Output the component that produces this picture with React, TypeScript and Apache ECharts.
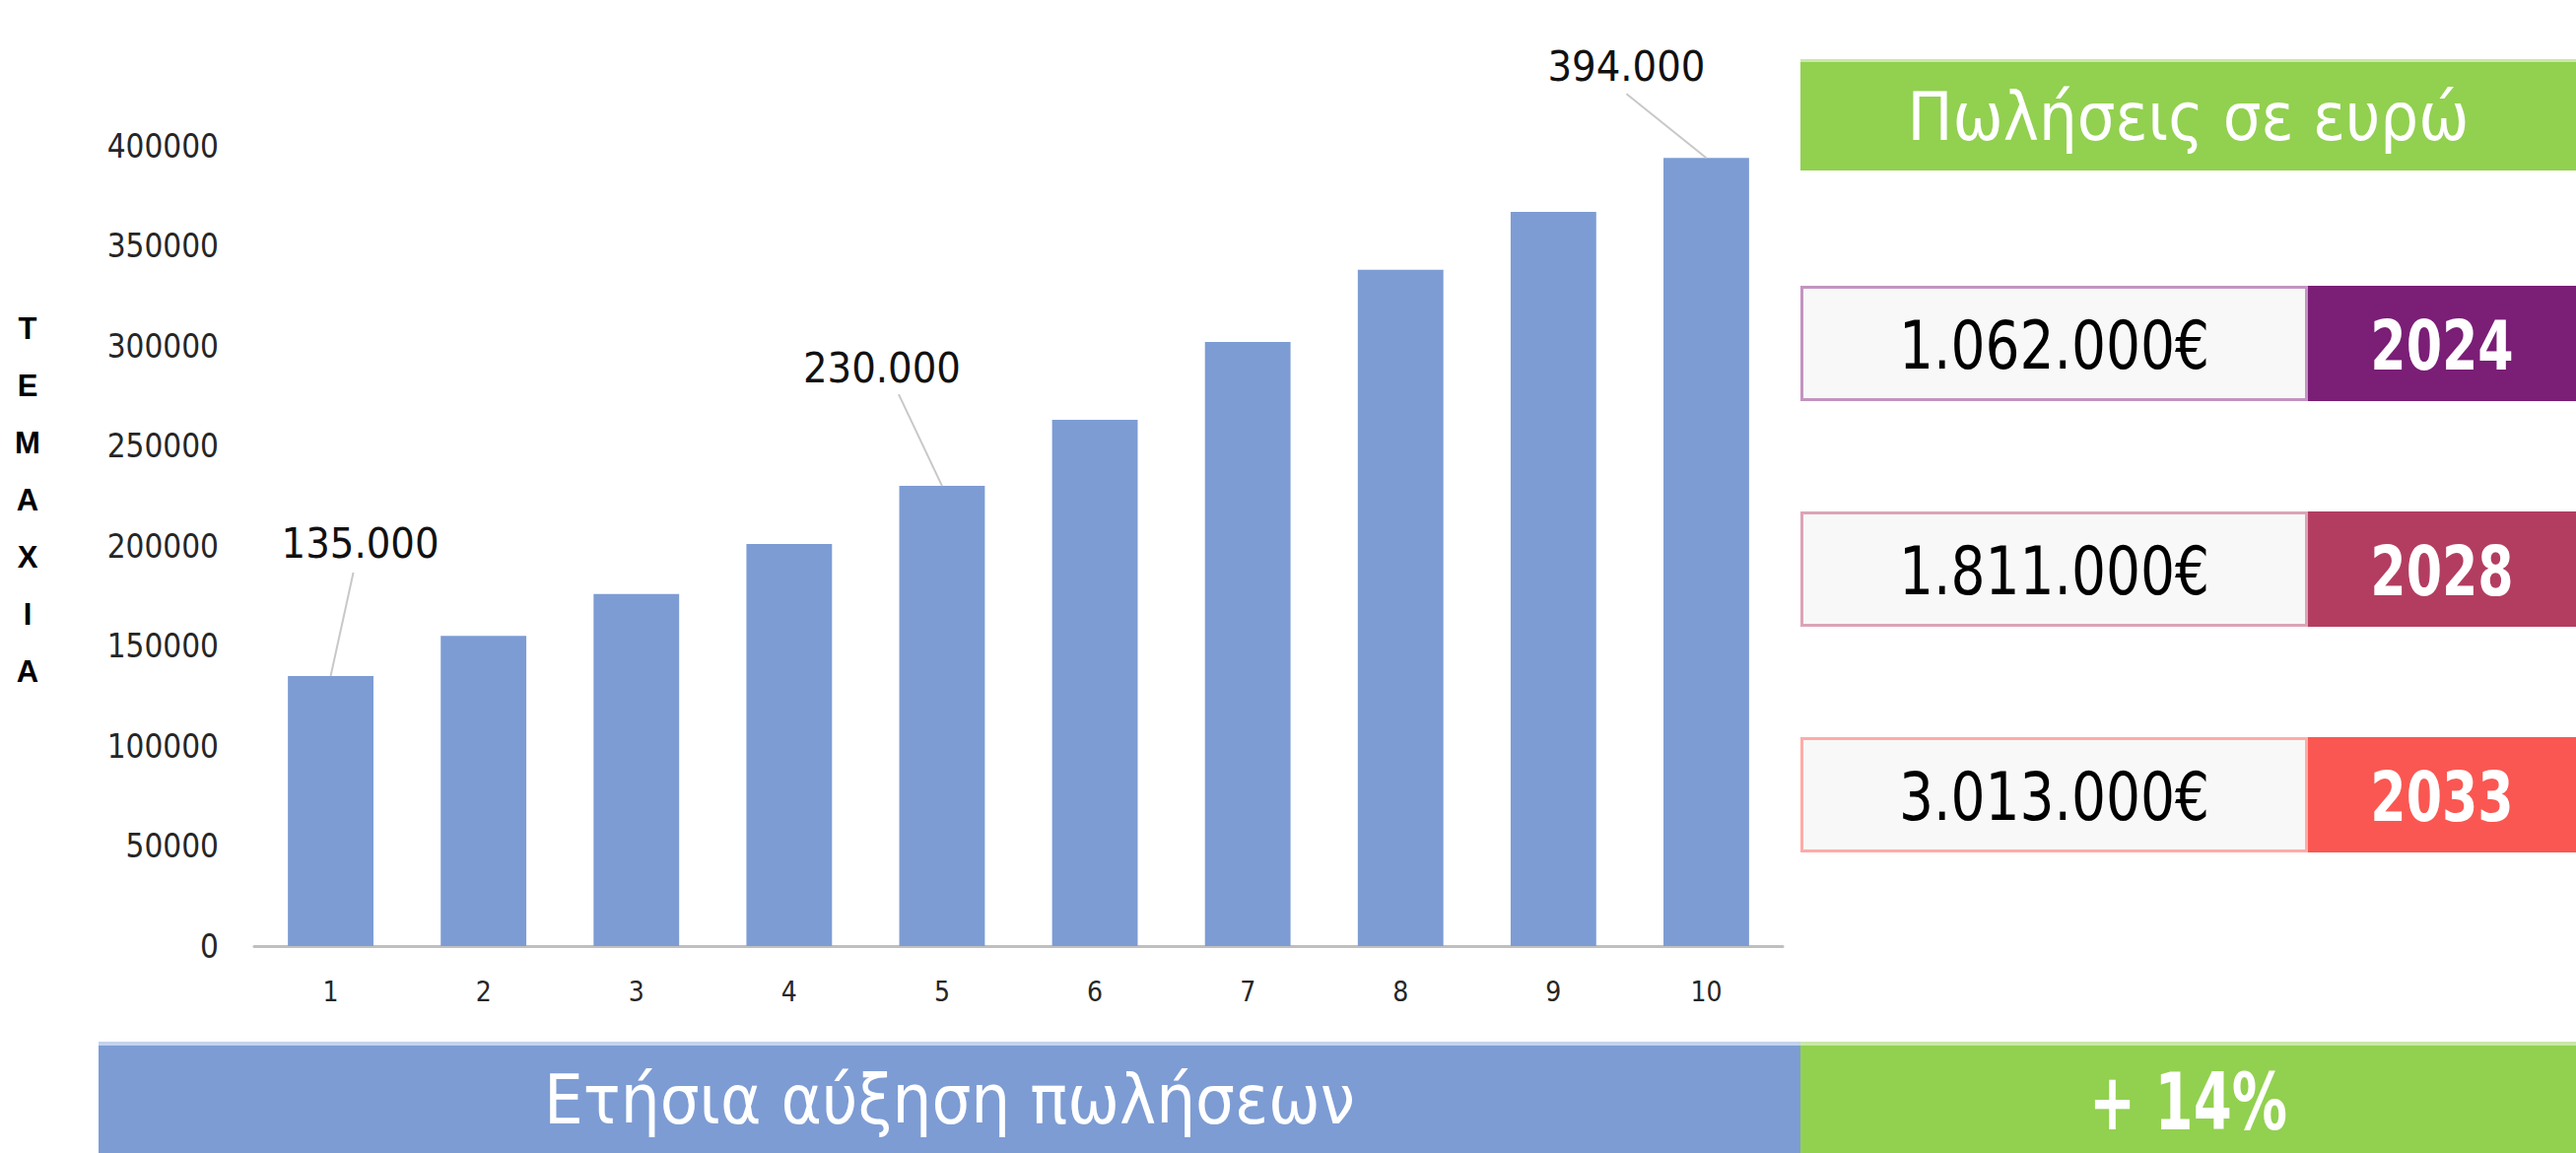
import React, { useEffect, useRef } from 'react';
import * as echarts from 'echarts';

// ---------- data ----------
const categories = ['1', '2', '3', '4', '5', '6', '7', '8', '9', '10'];
const units = [135000, 155000, 176000, 201000, 230000, 263000, 302000, 338000, 367000, 394000];
const labeledIndices = [0, 4, 9];
const yMax = 400000;
const yStep = 50000;
const axisTitle = 'ΤΕΜΑΧΙΑ';
const panelTitle = 'Πωλήσεις σε ευρώ';
const salesAmounts = ['1.062.000€', '1.811.000€', '3.013.000€'];
const salesYears = ['2024', '2028', '2033'];
const growthLabel = 'Ετήσια αύξηση πωλήσεων';
const growthValue = '+ 14%';

// ---------- style ----------
const NARROW = '"DejaVu Sans Condensed", "Liberation Sans Narrow", "DejaVu Sans", sans-serif';
const BAR = '#7D9CD4';
const GREEN = '#92D050';
const yearColors = ['#7A1E76', '#B33D61', '#FA5752'];
const yearBorders = ['#C393C1', '#DCA3B6', '#FFABA7'];
// label placement relative to bar top (pixels): text centre and leader start
const labelOffsets = [
  { tx: 30, ty: -135, lx: 23, ly: -105 },
  { tx: -61, ty: -120, lx: -44, ly: -93 },
  { tx: -81, ty: -93, lx: -81, ly: -65 },
];

const fmt = (v: number) => String(v).replace(/\B(?=(\d{3})+(?!\d))/g, '.');

const centered = (extra: any) => ({
  align: 'center',
  textAlign: 'center',
  verticalAlign: 'middle',
  textVerticalAlign: 'middle',
  fontFamily: NARROW,
  ...extra,
});

export default function App() {
  const ref = useRef<HTMLDivElement>(null);
  useEffect(() => {
    const chart = echarts.init(ref.current!, null, { renderer: 'svg' });

    const panelX = 1827;
    const panelW = 2614 - panelX;
    const splitX = 2342;
    const rowYs = [290, 519, 748];
    const rowH = 117;

    const graphics: any[] = [];
    // axis title stacked letters
    graphics.push({
      type: 'text',
      x: 28,
      y: 304,
      style: {
        text: axisTitle.split('').join('\n'),
        fill: '#000',
        fontSize: 31,
        fontWeight: 'bold',
        fontFamily: '"Liberation Sans", sans-serif',
        lineHeight: 58,
        align: 'center',
        textAlign: 'center',
        verticalAlign: 'top',
        textVerticalAlign: 'top',
      },
    });
    // header
    graphics.push({ type: 'rect', shape: { x: panelX, y: 60, width: panelW, height: 113 }, style: { fill: GREEN } });
    graphics.push({ type: 'rect', shape: { x: panelX, y: 60, width: panelW, height: 3 }, style: { fill: '#C9E8A8' } });
    graphics.push({
      type: 'text', x: panelX + panelW / 2, y: 118,
      style: centered({ text: panelTitle, fill: '#fff', fontSize: 68 }),
    });
    salesAmounts.forEach((amt, i) => {
      const y = rowYs[i];
      graphics.push({ type: 'rect', shape: { x: panelX + 1.5, y: y + 1.5, width: splitX - panelX - 3, height: rowH - 3 }, style: { fill: '#F8F8F8', stroke: yearBorders[i], lineWidth: 3 } });
      graphics.push({ type: 'rect', shape: { x: splitX, y, width: 2614 - splitX, height: rowH }, style: { fill: yearColors[i] } });
      graphics.push({
        type: 'text', x: (panelX + splitX) / 2, y: y + rowH / 2 + 2, scaleX: 0.9,
        style: centered({ text: amt, fill: '#000', fontSize: 68 }),
      });
      graphics.push({
        type: 'text', x: (splitX + 2614) / 2, y: y + rowH / 2 + 2, scaleX: 0.83,
        style: centered({ text: salesYears[i], fill: '#fff', fontSize: 70, fontWeight: 'bold' }),
      });
    });
    // bottom bars
    graphics.push({ type: 'rect', shape: { x: 100, y: 1057, width: panelX - 100, height: 113 }, style: { fill: BAR } });
    graphics.push({ type: 'rect', shape: { x: 100, y: 1057, width: panelX - 100, height: 4 }, style: { fill: '#C3D2EE' } });
    graphics.push({ type: 'rect', shape: { x: panelX, y: 1057, width: panelW, height: 113 }, style: { fill: GREEN } });
    graphics.push({ type: 'rect', shape: { x: panelX, y: 1057, width: panelW, height: 4 }, style: { fill: '#C9E8A8' } });
    graphics.push({
      type: 'text', x: (100 + panelX) / 2, y: 1116,
      style: centered({ text: growthLabel, fill: '#fff', fontSize: 70 }),
    });
    graphics.push({
      type: 'text', x: panelX + panelW / 2, y: 1118, scaleX: 0.78,
      style: centered({ text: growthValue, fill: '#fff', fontSize: 80, fontWeight: 'bold' }),
    });

    chart.setOption({
      animation: false,
      backgroundColor: '#fff',
      grid: { left: 258, right: 2614 - 1809, top: 148, bottom: 210, containLabel: false },
      xAxis: {
        type: 'category',
        data: categories,
        axisLine: { lineStyle: { color: '#BFBFBF', width: 3 } },
        axisTick: { show: false },
        axisLabel: { color: '#262626', fontSize: 28, fontFamily: NARROW, margin: 32 },
      },
      yAxis: {
        type: 'value',
        min: 0,
        max: yMax,
        interval: yStep,
        axisLine: { show: false },
        axisTick: { show: false },
        splitLine: { show: false },
        axisLabel: {
          color: '#262626',
          fontSize: 33,
          fontFamily: NARROW,
          margin: 36,
          formatter: (v: number) => String(v),
        },
      },
      series: [
        {
          type: 'bar',
          data: units,
          barCategoryGap: '44%',
          itemStyle: { color: BAR },
          silent: true,
        },
        {
          type: 'custom',
          silent: true,
          z: 10,
          data: labeledIndices.map((i) => [i, units[i]]),
          renderItem: (params: any, api: any) => {
            const v = api.value(1);
            const p = api.coord([api.value(0), v]);
            const o = labelOffsets[params.dataIndex];
            return {
              type: 'group',
              children: [
                {
                  type: 'line',
                  shape: { x1: p[0] + o.lx, y1: p[1] + o.ly, x2: p[0], y2: p[1] },
                  style: { stroke: '#C8C8C8', lineWidth: 2 },
                },
                {
                  type: 'text',
                  x: p[0] + o.tx,
                  y: p[1] + o.ty,
                  style: {
                    text: fmt(v),
                    fill: '#111',
                    fontSize: 43,
                    fontFamily: NARROW,
                    align: 'center',
                    textAlign: 'center',
                    verticalAlign: 'middle',
                    textVerticalAlign: 'middle',
                  },
                },
              ],
            };
          },
        },
      ],
      graphic: graphics,
    });
    return () => chart.dispose();
  }, []);
  return <div ref={ref} style={{ position: 'absolute', left: 0, top: 0, width: 2614, height: 1170 }} />;
}
